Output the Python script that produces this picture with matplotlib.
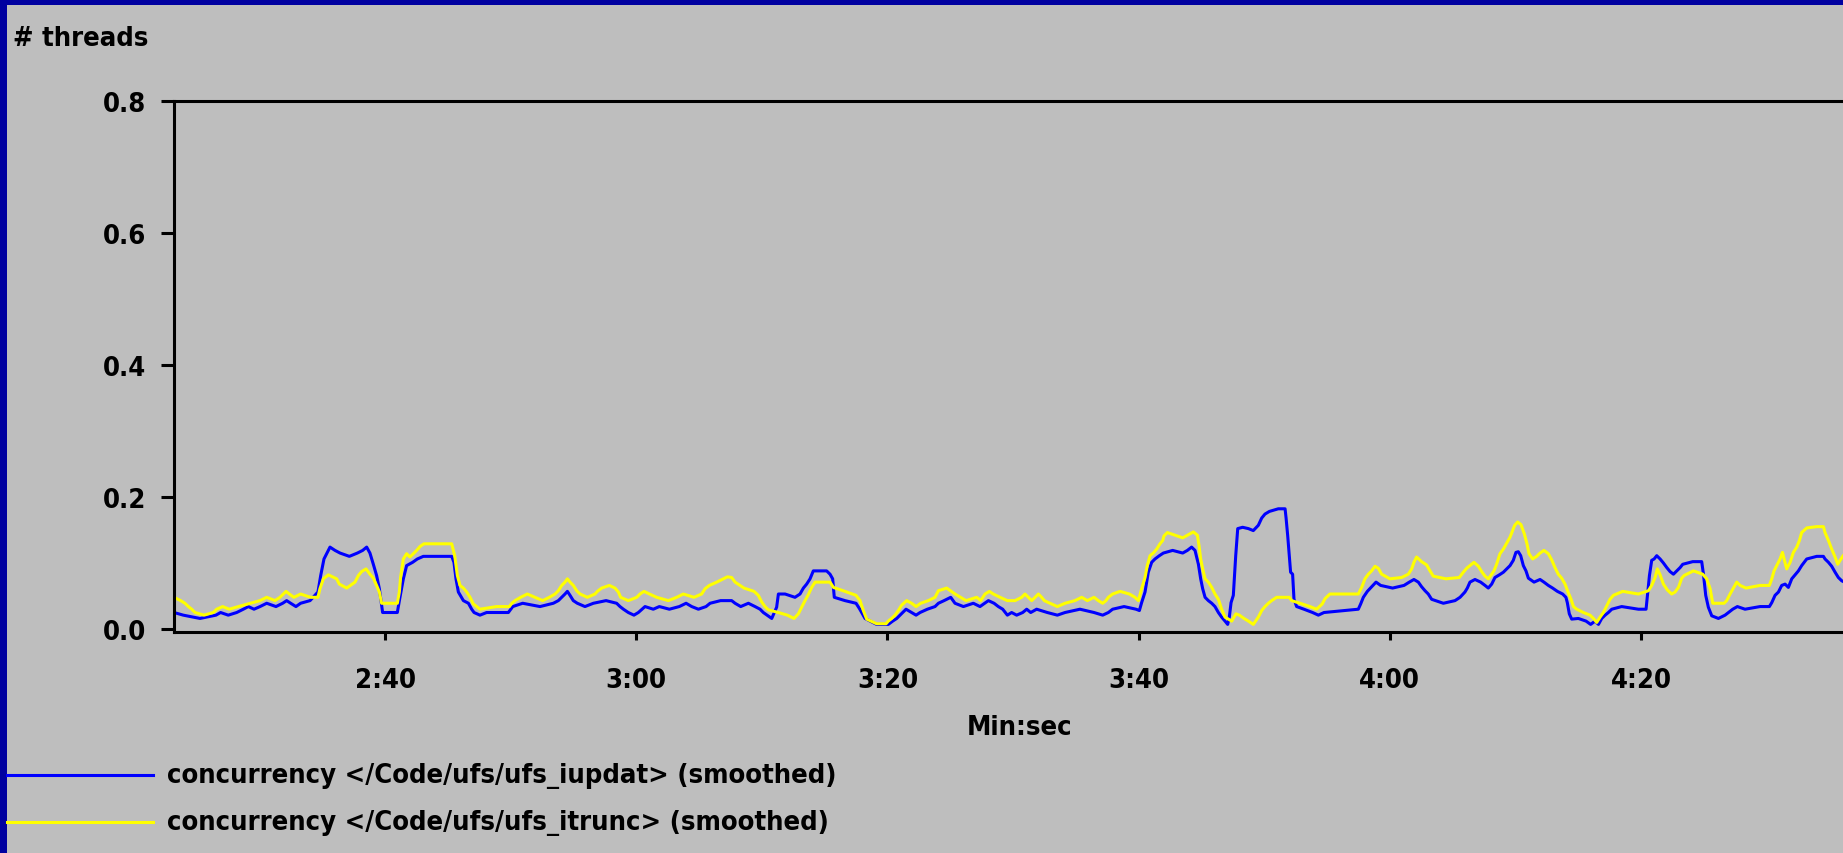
import matplotlib
matplotlib.use('Agg')
import matplotlib.pyplot as plt
from matplotlib import font_manager as fm
from matplotlib.patches import Rectangle
from matplotlib.lines import Line2D

# time in seconds, concurrency value
iupdat_t = [143.20, 143.94, 145.27, 146.54, 146.91, 147.52, 148.19, 148.72, 149.12, 149.57,
            150.05, 150.58, 151.32, 151.85, 152.17, 152.49, 152.91, 153.28, 154.03, 154.66,
            154.88, 155.14, 155.62, 156.02, 156.42, 157.16, 157.80, 158.22, 158.54, 158.80,
            159.07, 159.33, 159.55, 159.81, 160.98, 161.19, 161.46, 161.72, 162.20, 162.57,
            163.05, 165.17, 165.31, 165.49, 165.65, 165.84, 166.24, 166.64, 166.90, 167.09,
            167.56, 168.09, 169.82, 170.17, 170.96, 172.34, 173.40, 173.80, 174.07, 174.33,
            174.52, 174.73, 174.99, 175.31, 175.92, 176.59, 177.60, 178.44, 178.71, 178.98,
            179.37, 179.82, 180.17, 180.70, 181.36, 181.84, 182.64, 183.43, 183.97, 184.42,
            184.95, 185.56, 185.88, 186.72, 187.60, 187.87, 188.32, 188.93, 189.46, 189.86,
            190.12, 190.79, 191.18, 191.32, 191.85, 192.64, 193.04, 193.31, 193.57, 193.84,
            194.10, 195.16, 195.43, 195.64, 195.77, 196.62, 197.50, 197.77, 197.95, 198.22,
            199.14, 200.07, 200.42, 200.74, 201.00, 201.48, 201.93, 202.28, 202.60, 203.18,
            203.79, 204.06, 204.51, 205.04, 205.38, 206.05, 206.84, 207.37, 208.04, 208.49,
            208.83, 209.18, 209.55, 209.89, 210.29, 210.77, 211.09, 211.41, 211.88, 212.73,
            213.53, 214.14, 215.33, 216.45, 217.14, 217.59, 217.93, 218.84, 219.79, 220.06,
            220.24, 220.51, 220.77, 221.04, 221.30, 221.65, 221.97, 222.71, 223.51, 223.88,
            224.22, 224.49, 224.76, 224.94, 225.10, 225.29, 225.55, 225.82, 226.08, 226.35,
            226.61, 226.88, 227.09, 227.22, 227.36, 227.54, 227.73, 227.89, 228.28, 228.74,
            229.13, 229.53, 229.80, 230.06, 230.41, 231.12, 231.66, 231.74, 231.87, 232.10,
            232.26, 232.37, 232.58, 233.16, 233.85, 234.31, 234.76, 237.49, 237.68, 237.89,
            238.21, 238.55, 238.90, 239.27, 240.22, 241.13, 241.55, 241.92, 242.27, 242.53,
            242.80, 243.06, 243.33, 244.26, 245.19, 245.59, 245.98, 246.17, 246.38, 246.78,
            247.23, 247.58, 247.84, 248.11, 248.37, 248.72, 249.04, 249.30, 249.57, 249.83,
            250.04, 250.23, 250.42, 250.63, 250.84, 251.03, 251.48, 251.96, 252.27, 252.62,
            252.96, 253.34, 253.76, 254.02, 254.13, 254.29, 254.48, 255.01, 255.62, 255.99,
            256.34, 256.61, 256.87, 257.14, 257.40, 257.67, 258.46, 259.79, 260.40, 260.51,
            260.67, 260.85, 261.04, 261.25, 261.52, 261.78, 262.05, 262.31, 262.58, 262.84,
            263.11, 263.32, 264.12, 264.83, 264.97, 265.15, 265.36, 265.63, 266.16, 266.69,
            266.96, 267.30, 267.67, 268.28, 269.48, 270.22, 270.41, 270.67, 270.94, 271.20,
            271.47, 271.73, 272.00, 272.26, 272.53, 272.79, 273.19, 273.99, 274.52, 274.65,
            274.92, 275.18, 275.45, 275.71, 275.98, 276.30]
iupdat_v = [.025, .021, .016, .021, .025, .021, .025, .030, .034, .030,
            .034, .039, .034, .039, .043, .039, .034, .039, .043, .056,
            .081, .106, .124, .119, .115, .110, .115, .119, .124, .115,
            .098, .081, .061, .025, .025, .048, .076, .096, .101, .106,
            .110, .110, .110, .101, .076, .056, .043, .039, .030, .025,
            .021, .025, .025, .034, .039, .034, .039, .043, .048, .053,
            .057, .051, .043, .039, .034, .039, .043, .039, .034, .030,
            .025, .021, .025, .034, .030, .034, .030, .034, .039, .034,
            .030, .034, .039, .043, .043, .039, .034, .039, .034, .030,
            .025, .016, .033, .053, .053, .048, .053, .062, .068, .076,
            .088, .088, .083, .076, .048, .043, .039, .031, .025, .016,
            .007, .007, .012, .016, .021, .030, .025, .021, .025, .030,
            .034, .039, .043, .048, .039, .034, .039, .034, .043, .039,
            .034, .030, .021, .025, .021, .025, .030, .025, .030, .025,
            .021, .025, .030, .025, .021, .025, .030, .034, .030, .028,
            .040, .056, .086, .101, .106, .111, .115, .119, .115, .119,
            .124, .119, .098, .076, .061, .048, .043, .039, .034, .025,
            .018, .012, .007, .018, .040, .051, .111, .152, .154, .152,
            .149, .157, .168, .174, .178, .182, .182, .168, .141, .086,
            .083, .045, .034, .030, .025, .021, .025, .030, .038, .048,
            .057, .064, .071, .066, .062, .066, .071, .075, .071, .064,
            .058, .053, .045, .039, .043, .048, .056, .062, .071, .075,
            .071, .066, .062, .068, .078, .082, .086, .091, .096, .104,
            .116, .117, .111, .096, .088, .077, .071, .075, .071, .066,
            .062, .057, .053, .048, .040, .023, .015, .016, .012, .007,
            .012, .007, .016, .021, .025, .030, .034, .030, .030, .051,
            .081, .104, .106, .111, .106, .100, .093, .087, .083, .088,
            .093, .098, .102, .102, .083, .051, .033, .020, .016, .021,
            .025, .030, .034, .030, .034, .034, .040, .051, .056, .066,
            .068, .063, .076, .082, .088, .096, .106, .110, .110, .106,
            .101, .095, .086, .078, .073, .070]

itrunc_t = [143.20, 143.73, 144.07, 144.34, 144.61, 144.87, 145.59, 146.33, 146.60, 147.07,
            147.60, 148.32, 149.30, 150.05, 150.58, 151.24, 151.64, 151.90, 152.12, 152.38,
            152.75, 153.28, 154.08, 154.66, 154.82, 155.09, 155.49, 155.83, 156.15, 156.36,
            156.95, 157.61, 157.88, 158.14, 158.49, 158.80, 159.07, 159.33, 159.55, 159.73,
            160.98, 161.14, 161.24, 161.46, 161.72, 161.99, 162.25, 162.52, 162.79, 163.10,
            165.31, 165.55, 165.76, 165.97, 166.24, 166.50, 166.77, 167.03, 167.56, 168.89,
            169.90, 170.09, 170.35, 170.80, 171.33, 171.94, 172.55, 173.08, 173.54, 173.80,
            174.07, 174.33, 174.52, 174.73, 174.99, 175.26, 175.53, 176.11, 176.72, 176.91,
            177.25, 177.86, 178.31, 178.58, 178.76, 179.37, 180.04, 180.30, 180.62, 181.05,
            181.63, 182.56, 183.22, 183.75, 184.60, 185.21, 185.48, 185.82, 186.41, 186.94,
            187.26, 187.60, 187.87, 188.58, 189.38, 189.72, 189.99, 190.25, 190.52, 191.32,
            192.03, 192.56, 192.91, 193.17, 193.44, 193.70, 193.97, 194.24, 195.43, 195.70,
            196.62, 197.50, 197.82, 198.08, 198.35, 199.14, 199.89, 200.07, 200.34, 200.60,
            200.87, 201.13, 201.53, 201.93, 202.28, 202.65, 203.26, 203.79, 204.06, 204.72,
            205.38, 206.26, 207.11, 207.43, 207.77, 208.12, 208.43, 208.97, 209.55, 210.16,
            210.69, 210.95, 211.22, 211.49, 211.75, 212.02, 212.28, 212.49, 212.94, 213.53,
            214.14, 214.93, 215.47, 215.92, 216.45, 216.79, 217.14, 217.40, 217.59, 217.93,
            218.52, 219.26, 219.71, 219.98, 220.24, 220.51, 220.69, 220.91, 221.17, 221.44,
            221.70, 221.92, 222.02, 222.29, 222.90, 223.51, 223.88, 224.36, 224.68, 224.81,
            224.94, 225.10, 225.29, 225.55, 225.82, 226.08, 226.35, 226.61, 226.88, 227.41,
            227.75, 228.02, 228.39, 228.74, 229.13, 229.53, 229.80, 230.06, 230.33, 230.59,
            230.99, 232.00, 232.18, 232.85, 233.64, 234.17, 234.62, 234.84, 235.23, 237.49,
            237.76, 238.02, 238.29, 238.55, 238.82, 239.08, 239.35, 240.01, 240.94, 241.47,
            241.74, 241.92, 242.13, 242.53, 242.93, 243.20, 243.46, 244.47, 245.53, 245.85,
            246.12, 246.38, 246.70, 247.05, 247.31, 247.58, 247.84, 248.11, 248.29, 248.50,
            248.77, 249.04, 249.30, 249.57, 249.78, 249.94, 250.18, 250.44, 250.71, 250.92,
            251.08, 251.37, 251.69, 251.96, 252.27, 252.62, 252.88, 253.15, 253.41, 253.68,
            253.95, 254.21, 254.43, 254.62, 254.88, 255.41, 255.94, 256.21, 256.47, 256.74,
            257.00, 257.27, 257.53, 257.80, 258.54, 259.79, 260.59, 260.85, 261.12, 261.30,
            261.52, 261.78, 262.10, 262.44, 262.71, 262.98, 263.24, 263.43, 264.17, 264.91,
            265.23, 265.50, 265.71, 266.61, 266.82, 267.09, 267.35, 267.62, 267.89, 268.36,
            269.48, 270.22, 270.41, 270.59, 270.80, 271.07, 271.26, 271.39, 271.60, 271.87,
            272.13, 272.40, 272.61, 272.79, 273.19, 273.99, 274.52, 274.65, 274.92, 275.18,
            275.45, 275.66, 275.85, 276.09, 276.30]
itrunc_v = [.048, .043, .039, .034, .030, .025, .021, .025, .030, .034,
            .030, .034, .039, .043, .048, .043, .048, .053, .057, .053,
            .048, .053, .048, .048, .061, .076, .082, .079, .076, .068,
            .062, .071, .081, .087, .091, .083, .077, .066, .056, .039,
            .039, .056, .078, .106, .114, .109, .114, .119, .125, .129,
            .129, .111, .081, .066, .062, .056, .048, .038, .030, .034,
            .034, .039, .043, .048, .053, .048, .043, .048, .053, .058,
            .066, .071, .076, .071, .066, .058, .053, .048, .053, .057,
            .062, .066, .062, .056, .048, .043, .048, .053, .057, .053,
            .048, .043, .048, .053, .048, .053, .061, .066, .071, .076,
            .079, .078, .071, .062, .057, .051, .041, .034, .029, .025,
            .021, .016, .023, .033, .043, .052, .063, .071, .071, .063,
            .057, .051, .043, .028, .015, .008, .008, .012, .016, .021,
            .028, .036, .043, .039, .034, .039, .043, .048, .058, .062,
            .053, .043, .048, .043, .053, .057, .053, .048, .043, .043,
            .048, .053, .048, .043, .048, .053, .048, .043, .039, .034,
            .039, .043, .048, .043, .048, .043, .039, .043, .048, .053,
            .057, .053, .048, .043, .061, .078, .096, .111, .115, .121,
            .129, .134, .141, .146, .142, .138, .142, .147, .142, .126,
            .106, .091, .076, .071, .063, .053, .045, .030, .018, .012,
            .023, .021, .016, .012, .007, .018, .028, .034, .039, .043,
            .048, .048, .043, .039, .034, .030, .038, .046, .053, .053,
            .063, .076, .083, .088, .095, .092, .083, .076, .078, .083,
            .091, .101, .109, .102, .097, .088, .080, .076, .078, .086,
            .092, .096, .101, .095, .087, .080, .076, .083, .088, .098,
            .114, .121, .130, .139, .149, .157, .162, .158, .144, .129,
            .114, .106, .110, .115, .119, .114, .105, .093, .083, .077,
            .068, .055, .045, .034, .030, .025, .021, .016, .010, .018,
            .025, .035, .045, .051, .057, .053, .058, .066, .078, .091,
            .082, .068, .059, .053, .056, .063, .077, .081, .088, .083,
            .076, .061, .039, .039, .043, .053, .062, .071, .066, .062,
            .066, .066, .076, .088, .096, .106, .116, .106, .091, .101,
            .116, .124, .134, .146, .153, .155, .155, .146, .134, .121,
            .109, .098, .104, .111, .115]

x_ticks = [160, 180, 200, 220, 240, 260]
x_labels = ['2:40', '3:00', '3:20', '3:40', '4:00', '4:20']
y_ticks = [0.0, 0.2, 0.4, 0.6, 0.8]
y_labels = ['0.0', '0.2', '0.4', '0.6', '0.8']
series_names = ['concurrency </Code/ufs/ufs_iupdat> (smoothed)',
                'concurrency </Code/ufs/ufs_itrunc> (smoothed)']
series_colors = ['#0000ff', '#ffff00']

bg = '#bebebe'
W, H = 1843, 854


# the original uses a narrow bold bitmap font; look for a condensed bold face
def wnum(w):
    return w if isinstance(w, (int, float)) else fm.weight_dict.get(w, 400)


cands = []
for f in fm.fontManager.ttflist:
    key = (f.name + ' ' + f.fname).lower()
    if f.style != 'normal':
        continue
    if 'narrow' in key or 'condensed' in key or f.stretch in ('condensed', 'extra-condensed'):
        cands.append((abs(wnum(f.weight) - 700), 'semi' in key, 'extra' in key, f.fname))
cands.sort()
if cands:
    fp = fm.FontProperties(fname=cands[0][3])
else:
    fp = fm.FontProperties(family='DejaVu Sans', weight='bold')

# size the font so the legend text is as wide as in the original (~673 px)
probe = plt.figure(dpi=100)
pt = probe.text(0, 0, series_names[0], fontproperties=fp, fontsize=25)
probe.canvas.draw()
fsize = 25 * 673 / pt.get_window_extent().width
plt.close(probe)
fp = fp.copy()
fp.set_size(fsize)

fig = plt.figure(figsize=(W / 100, H / 100), dpi=100, facecolor=bg)
ax = fig.add_axes([174 / W, (H - 633) / H, 1 - 174 / W, (633 - 101.5) / H])
ax.set_facecolor(bg)

lines = []
for t, v, c in zip([iupdat_t, itrunc_t], [iupdat_v, itrunc_v], series_colors):
    ln, = ax.plot(t, v, color=c, lw=2.2)
    lines.append(ln)

ax.set_xlim(143.2, 276.08)
ax.set_ylim(-0.0045, 0.8)
ax.set_xticks(x_ticks)
ax.set_xticklabels(x_labels, fontproperties=fp)
ax.set_yticks(y_ticks)
ax.set_yticklabels(y_labels, fontproperties=fp)
ax.spines['right'].set_visible(False)
for s in ['left', 'top', 'bottom']:
    ax.spines[s].set_linewidth(2.2)
ax.tick_params(axis='y', length=9.4, width=2.2, pad=10.5)
ax.tick_params(axis='x', length=6, width=2.2, pad=19)

fig.text(13 / W, (H - 46) / H, '# threads', ha='left', va='baseline', fontproperties=fp)
fig.text(1020 / W, (H - 735) / H, 'Min:sec', ha='center', va='baseline', fontproperties=fp)

# legend drawn below the plot, one row per series
for i, (ln, name) in enumerate(zip(lines, series_names)):
    y = (H - 776 - 47 * i) / H
    fig.add_artist(Line2D([7 / W, 153 / W], [y, y], color=ln.get_color(), lw=2.2))
    fig.text(167 / W, y, name, ha='left', va='center', fontproperties=fp)

# window border
fig.add_artist(Rectangle((0, 1 - 6 / H), 1, 6 / H, transform=fig.transFigure,
                         color='#0000a0', lw=0))
fig.add_artist(Rectangle((0, 0), 7 / W, 1, transform=fig.transFigure,
                         color='#0000a0', lw=0))

fig.savefig('out.png', dpi=100, facecolor=bg)
